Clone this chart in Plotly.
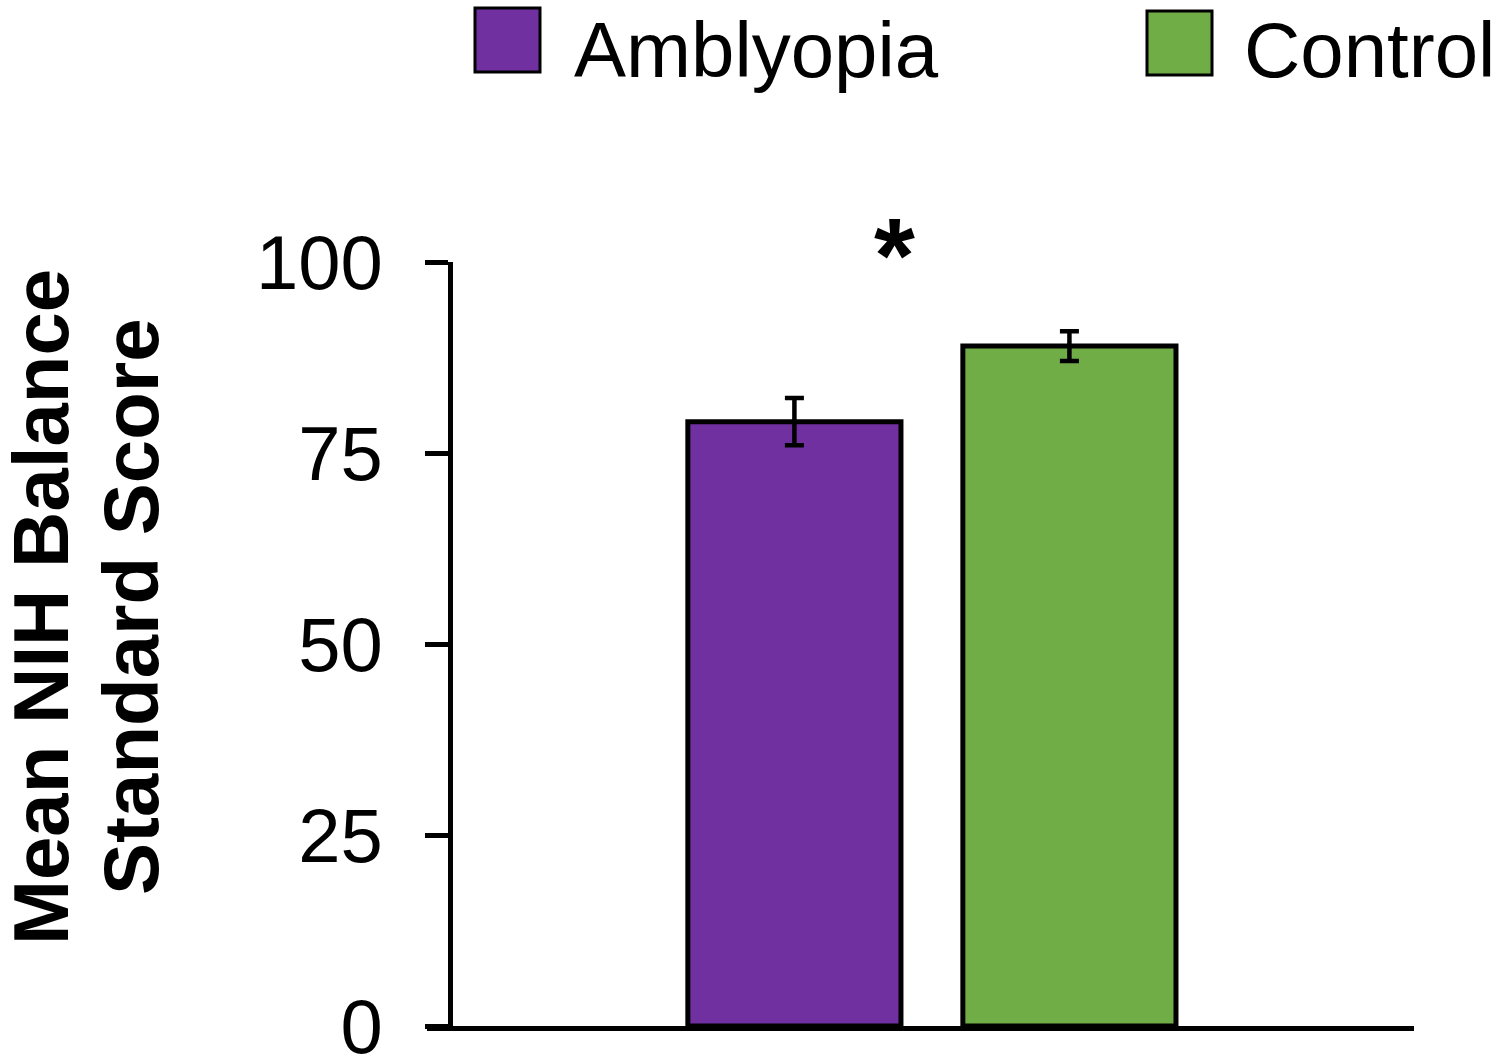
import plotly.graph_objects as go

# ---- data ----
groups = ["Amblyopia", "Control"]
means = [79.1, 89.0]
sems = [3.1, 1.95]
colors = ["#7030A0", "#70AD47"]
y_ticks = [0, 25, 50, 75, 100]
y_title_lines = ["Mean NIH Balance", "Standard Score"]
sig_label = "*"

# ---- layout geometry (pixels) ----
W, H = 1500, 1059
L, R, T, B = 427, 1414, 262, 1026   # plot area edges
FONT = "Arial, Liberation Sans, Helvetica, sans-serif"

def px_x(p):
    return (p - L) / (R - L)

def px_y(p):
    return (B - p) / (B - T)

fig = go.Figure()
for i, g in enumerate(groups):
    fig.add_trace(go.Bar(
        x=[i], y=[means[i]], name=g, width=0.775,
        marker=dict(color=colors[i], line=dict(color="black", width=5)),
        error_y=dict(type="data", array=[sems[i]], color="black", thickness=4.5, width=9.5),
        showlegend=False,
    ))

# legend drawn manually (large square swatches)
legend_items = [
    (groups[0], colors[0], 475, 540, 8, 72, 572, 50),
    (groups[1], colors[1], 1147, 1212, 11, 75, 1242, 50),
]
shapes = []
annotations = []
for name, col, x0, x1, y0, y1, tx, ty in legend_items:
    shapes.append(dict(type="rect", xref="paper", yref="paper",
                       x0=px_x(x0), x1=px_x(x1), y0=px_y(y1), y1=px_y(y0),
                       fillcolor=col, line=dict(color="black", width=3)))
    annotations.append(dict(text=name, xref="paper", yref="paper",
                            x=px_x(tx), y=px_y(ty), xanchor="left", yanchor="middle",
                            showarrow=False, font=dict(family=FONT, size=78, color="black")))

# y-axis title (two lines, bold, rotated)
for line, cx in zip(y_title_lines, [41, 131]):
    annotations.append(dict(text="<b>%s</b>" % line, xref="paper", yref="paper",
                            x=px_x(cx), y=px_y(607), xanchor="center", yanchor="middle",
                            textangle=-90, showarrow=False,
                            font=dict(family=FONT, size=78, color="black")))

# significance asterisk
annotations.append(dict(text="<b>%s</b>" % sig_label, xref="x", yref="paper",
                        x=0.365, y=px_y(256), xanchor="center", yanchor="middle",
                        showarrow=False, font=dict(family=FONT, size=105, color="black")))

fig.update_layout(
    width=W, height=H,
    margin=dict(l=L, r=W - R, t=T, b=H - B, pad=0, autoexpand=False),
    paper_bgcolor="white", plot_bgcolor="white",
    font=dict(family=FONT, size=76, color="black"),
    barmode="overlay",
    xaxis=dict(range=[-1.336, 2.253], showline=True, linecolor="black", linewidth=5,
               showticklabels=False, ticks="", showgrid=False, zeroline=False,
               automargin=False, fixedrange=True),
    yaxis=dict(range=[0, 100], tickvals=y_ticks, ticktext=[str(v) for v in y_ticks],
               anchor="free", position=px_x(450), automargin=False,
               showline=True, linecolor="black", linewidth=5,
               ticks="outside", ticklen=23, tickwidth=5, tickcolor="black",
               ticklabelstandoff=27, ticklabeloverflow="allow",
               showgrid=False, zeroline=False,
               tickfont=dict(family=FONT, size=76, color="black")),
    shapes=shapes,
    annotations=annotations,
)

fig.write_html("out.html",
               config={"displayModeBar": False},
               post_script="document.body.style.margin='0';document.body.style.overflow='hidden';")
